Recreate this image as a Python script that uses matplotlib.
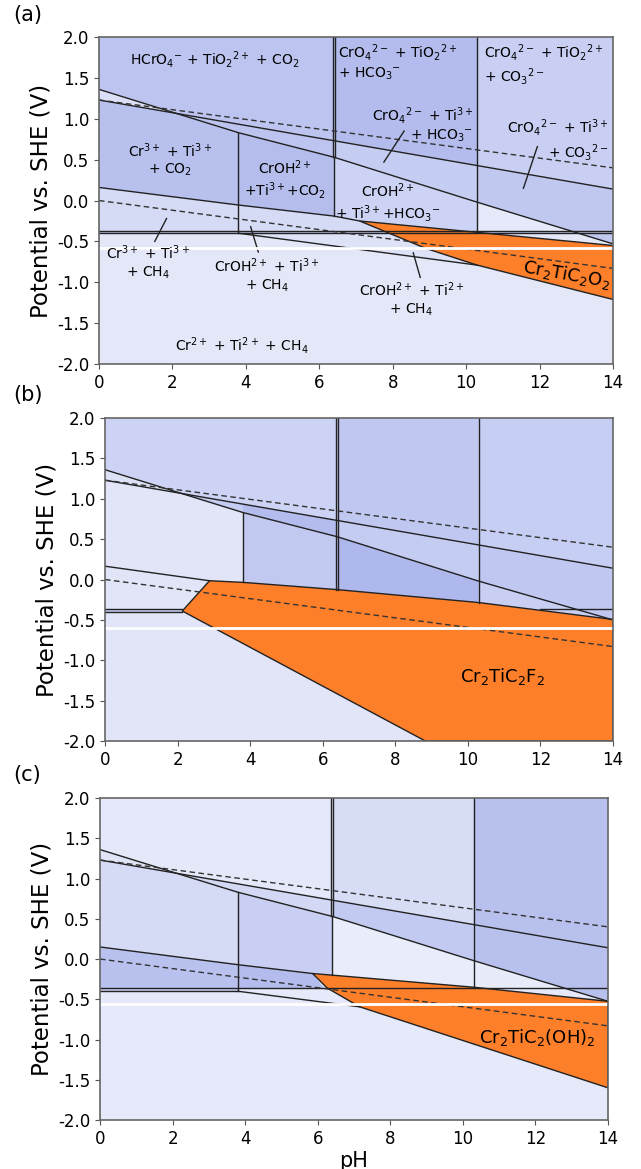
import matplotlib.pyplot as plt
from matplotlib.patches import Polygon

plt.rcParams['axes.unicode_minus'] = False

ph_ticks = [0, 2, 4, 6, 8, 10, 12, 14]
e_ticks = [2.0, 1.5, 1.0, 0.5, 0.0, -0.5, -1.0, -1.5, -2.0]

# water stability lines (dashed)
o2_line = [(0, 1.23), (14, 0.40)]
h2_line = [(0, 0.0), (14, -0.83)]

# -------------------------------------------------------------------------
# panel (a) : Cr2TiC2O2
a_polys = [
    [(0, 2), (6.4, 2), (6.4, 0.73), (2.1, 1.07), (0, 1.36)],
    [(6.4, 2), (10.3, 2), (10.3, 0.43), (6.4, 0.73)],
    [(10.3, 2), (14, 2), (14, 0.14), (10.3, 0.43)],
    [(0, 1.36), (2.1, 1.07), (0, 1.23)],
    [(0, 1.23), (2.1, 1.07), (3.8, 0.83), (3.8, -0.055), (0, 0.16)],
    [(2.1, 1.07), (6.4, 0.73), (6.4, 0.53), (3.8, 0.83)],
    [(3.8, 0.83), (6.4, 0.53), (6.4, -0.19), (3.8, -0.055)],
    [(6.4, 0.73), (10.3, 0.43), (10.3, -0.02), (6.4, 0.53)],
    [(6.4, 0.53), (10.3, -0.02), (10.3, -0.40), (7.1, -0.25), (6.4, -0.19)],
    [(10.3, 0.43), (14, 0.14), (14, -0.53), (10.3, -0.02)],
    [(10.3, -0.02), (12.8, -0.37), (10.3, -0.37)],
    [(0, 0.16), (3.8, -0.055), (6.4, -0.19), (7.1, -0.25), (9.9, -0.37), (0, -0.37)],
    [(0, -0.37), (14, -0.37), (14, -0.40), (0, -0.40)],
    [(3.8, -0.40), (10.3, -0.40), (10.3, -0.79)],
]
a_colors = ['#bcc4ef', '#b3bcec', '#c8cff3', '#dce0f6', '#b8c1ee', '#bcc4ef',
            '#b4bdec', '#c6cdf2', '#ccd3f4', '#c0c8f0', '#e6e9f9', '#d5daf5',
            '#c5ccf1', '#dde2f7']
a_bg = '#e4e7f8'
a_phase = [(7.1, -0.25), (14, -0.55), (14, -1.21), (10.3, -0.79), (8.9, -0.585)]
a_lines = [
    [(0, 1.36), (3.8, 0.83), (6.4, 0.53), (10.3, -0.02), (14, -0.53)],
    [(0, 1.23), (14, 0.14)],
    [(0, 0.16), (3.8, -0.055), (6.4, -0.19), (7.1, -0.25)],
    [(0, -0.37), (14, -0.37)],
    [(0, -0.40), (14, -0.40)],
    [(3.8, -0.40), (10.3, -0.79)],
    [(3.8, 0.83), (3.8, -0.40)],
    [(6.38, 2), (6.38, 0.53)],
    [(6.43, 2), (6.43, 0.53)],
    [(6.4, 0.53), (6.4, -0.19)],
    [(10.3, 2), (10.3, -0.37)],
]
a_leaders = [
    [(7.76, 0.47), (8.31, 0.85)],
    [(11.56, 0.15), (11.94, 0.66)],
    [(1.52, -0.50), (1.84, -0.22)],
    [(4.34, -0.63), (4.13, -0.32)],
    [(8.75, -0.94), (8.56, -0.64)],
]
a_labels = [
    (3.16, 1.72, r'HCrO$_4$$^{-}$ + TiO$_2$$^{2+}$ + CO$_2$', 'center', 'center'),
    (6.52, 1.94, 'CrO$_4$$^{2-}$ + TiO$_2$$^{2+}$\n+ HCO$_3$$^{-}$', 'left', 'top'),
    (10.5, 1.94, 'CrO$_4$$^{2-}$ + TiO$_2$$^{2+}$\n+ CO$_3$$^{2-}$', 'left', 'top'),
    (10.2, 0.93, 'CrO$_4$$^{2-}$ + Ti$^{3+}$\n+ HCO$_3$$^{-}$', 'right', 'center'),
    (13.88, 0.74, 'CrO$_4$$^{2-}$ + Ti$^{3+}$\n+ CO$_3$$^{2-}$', 'right', 'center'),
    (1.93, 0.50, 'Cr$^{3+}$ + Ti$^{3+}$\n+ CO$_2$', 'center', 'center'),
    (5.07, 0.25, 'CrOH$^{2+}$\n+Ti$^{3+}$+CO$_2$', 'center', 'center'),
    (7.87, -0.03, 'CrOH$^{2+}$\n+ Ti$^{3+}$+HCO$_3$$^{-}$', 'center', 'center'),
    (1.34, -0.75, 'Cr$^{3+}$ + Ti$^{3+}$\n+ CH$_4$', 'center', 'center'),
    (4.57, -0.91, 'CrOH$^{2+}$ + Ti$^{3+}$\n+ CH$_4$', 'center', 'center'),
    (8.51, -1.21, 'CrOH$^{2+}$ + Ti$^{2+}$\n+ CH$_4$', 'center', 'center'),
    (3.88, -1.77, 'Cr$^{2+}$ + Ti$^{2+}$ + CH$_4$', 'center', 'center'),
]
a_phase_label = (12.75, -0.90, 'Cr$_2$TiC$_2$O$_2$', -10)

# -------------------------------------------------------------------------
# panel (b) : Cr2TiC2F2
b_polys = [
    [(0, 2), (6.4, 2), (6.4, 0.73), (2.1, 1.07), (0, 1.36)],
    [(6.4, 2), (10.3, 2), (10.3, 0.43), (6.4, 0.73)],
    [(10.3, 2), (14, 2), (14, 0.14), (10.3, 0.43)],
    [(0, 1.36), (2.1, 1.07), (0, 1.23)],
    [(2.1, 1.07), (3.8, 0.934), (3.8, 0.83)],
    [(3.8, 0.934), (6.4, 0.73), (6.4, 0.53), (3.8, 0.83)],
    [(3.8, 0.83), (6.4, 0.53), (6.4, -0.125), (3.8, -0.035)],
    [(6.4, 0.73), (10.3, 0.43), (10.3, -0.02), (6.4, 0.53)],
    [(6.4, 0.53), (10.3, -0.02), (10.3, -0.285), (6.4, -0.125)],
    [(10.3, 0.43), (14, 0.14), (14, -0.50), (10.3, -0.02)],
    [(10.3, -0.02), (14, -0.50), (10.3, -0.285)],
    [(0, -0.367), (2.13, -0.367), (2.13, -0.408), (0, -0.408)],
]
b_colors = ['#cdd3f4', '#c0c8f1', '#c7cef3', '#dde1f6', '#c5ccf2', '#b3bcec',
            '#c1c9f1', '#c5ccf2', '#afb8ec', '#c0c8f1', '#c8cff3', '#c5ccf1']
b_bg = '#e1e5f7'
b_phase = [(2.13, -0.39), (2.88, -0.015), (3.8, -0.035), (6.4, -0.125),
           (10.3, -0.285), (14, -0.495), (14, -2.0), (8.83, -2.0)]
b_lines = [
    [(0, 1.36), (3.8, 0.83), (6.4, 0.53), (10.3, -0.02), (14, -0.50)],
    [(0, 1.23), (14, 0.14)],
    [(0, 0.165), (2.88, -0.015)],
    [(0, -0.367), (2.13, -0.367)],
    [(0, -0.408), (2.13, -0.408)],
    [(12.0, -0.367), (14, -0.367)],
    [(3.8, 0.83), (3.8, -0.035)],
    [(6.38, 2), (6.38, -0.125)],
    [(6.43, 2), (6.43, -0.125)],
    [(10.3, 2), (10.3, -0.285)],
]
b_phase_label = (10.95, -1.2, 'Cr$_2$TiC$_2$F$_2$', 0)

# -------------------------------------------------------------------------
# panel (c) : Cr2TiC2(OH)2
c_polys = [
    [(0, 2), (6.4, 2), (6.4, 0.73), (2.1, 1.07), (0, 1.36)],
    [(6.4, 2), (10.3, 2), (10.3, 0.43), (6.4, 0.73)],
    [(10.3, 2), (14, 2), (14, 0.14), (10.3, 0.43)],
    [(0, 1.36), (2.1, 1.07), (0, 1.23)],
    [(0, 1.23), (2.1, 1.07), (3.8, 0.83), (3.8, -0.07), (0, 0.15)],
    [(2.1, 1.07), (6.4, 0.73), (6.4, 0.53), (3.8, 0.83)],
    [(3.8, 0.83), (6.4, 0.53), (6.4, -0.2), (5.86, -0.18), (3.8, -0.07)],
    [(6.4, 0.73), (10.3, 0.43), (10.3, -0.02), (6.4, 0.53)],
    [(6.4, 0.53), (10.3, -0.02), (10.3, -0.36), (6.4, -0.2)],
    [(10.3, 0.43), (14, 0.14), (14, -0.525), (10.3, -0.02)],
    [(10.3, -0.02), (12.8, -0.362), (10.3, -0.362)],
    [(0, 0.15), (3.8, -0.07), (3.8, -0.362), (0, -0.362)],
    [(3.8, -0.07), (5.86, -0.18), (6.17, -0.362), (3.8, -0.362)],
    [(0, -0.362), (3.8, -0.362), (3.8, -0.40), (0, -0.40)],
]
c_colors = ['#e5e8f8', '#d8ddf6', '#b8c1ee', '#e0e4f7', '#d5daf5', '#d3d8f5',
            '#c8cff2', '#c3caf1', '#e9ecfa', '#b8c1ee', '#e8ebf9', '#b9c2ef',
            '#b3bcec', '#c5ccf1']
c_bg = '#e6e9f9'
c_phase = [(5.86, -0.18), (6.4, -0.2), (10.3, -0.35), (14, -0.525), (14, -1.6),
           (7.16, -0.594), (6.26, -0.36)]
c_lines = [
    [(0, 1.36), (3.8, 0.83), (6.4, 0.53), (10.3, -0.02), (14, -0.525)],
    [(0, 1.23), (14, 0.14)],
    [(0, 0.15), (3.8, -0.07), (5.86, -0.18)],
    [(0, -0.362), (14, -0.362)],
    [(0, -0.40), (3.8, -0.40)],
    [(3.8, -0.40), (7.16, -0.594)],
    [(3.8, 0.83), (3.8, -0.40)],
    [(6.38, 2), (6.38, 0.53)],
    [(6.43, 2), (6.43, 0.53)],
    [(6.4, 0.53), (6.4, -0.2)],
    [(10.3, 2), (10.3, -0.36)],
]
c_phase_label = (12.06, -0.98, 'Cr$_2$TiC$_2$(OH)$_2$', 0)

white_levels = [-0.575, -0.60, -0.56]
panel_tags = ['(a)', '(b)', '(c)']
phase_color = '#fe7f2a'

# -------------------------------------------------------------------------
fig = plt.figure(figsize=(6.41, 11.69), dpi=100)
axes_rects = [[0.1544, 0.6886, 0.8019, 0.2797],
              [0.1638, 0.3661, 0.7925, 0.2763],
              [0.1560, 0.0419, 0.7925, 0.2754]]
tag_pos = [(0.043, 0.987), (0.043, 0.662), (0.043, 0.337)]

panels = [
    (a_bg, a_polys, a_colors, a_phase, a_lines, a_phase_label),
    (b_bg, b_polys, b_colors, b_phase, b_lines, b_phase_label),
    (c_bg, c_polys, c_colors, c_phase, c_lines, c_phase_label),
]

for i, (bg, polys, colors, phase, lines, plabel) in enumerate(panels):
    ax = fig.add_axes(axes_rects[i])
    ax.set_facecolor(bg)
    for verts, col in zip(polys, colors):
        ax.add_patch(Polygon(verts, closed=True, facecolor=col, edgecolor='none', zorder=1))
    ax.add_patch(Polygon(phase, closed=True, facecolor=phase_color, edgecolor='#222222',
                         lw=1.0, zorder=3))
    for ln in lines:
        xs, ys = zip(*ln)
        ax.plot(xs, ys, color='#222222', lw=1.0, zorder=4)
    for ln in (o2_line, h2_line):
        xs, ys = zip(*ln)
        ax.plot(xs, ys, color='#333333', lw=1.0, ls=(0, (4, 2.5)), zorder=4)
    ax.axhline(white_levels[i], color='white', lw=2.0, zorder=6)
    ax.text(plabel[0], plabel[1], plabel[2], fontsize=13, ha='center', va='center',
            rotation=plabel[3], zorder=7)

    ax.set_xlim(0, 14)
    ax.set_ylim(-2.0, 2.0)
    ax.set_xticks(ph_ticks)
    ax.set_yticks(e_ticks)
    ax.set_yticklabels(['%.1f' % v for v in e_ticks])
    ax.tick_params(labelsize=12, length=3.5, color='#555555')
    for sp in ax.spines.values():
        sp.set_color('#666666')
        sp.set_linewidth(1.2)
        sp.set_zorder(8)
    ax.set_ylabel('Potential vs. SHE (V)', fontsize=16.5, labelpad=3)
    fig.text(tag_pos[i][0], tag_pos[i][1], panel_tags[i], fontsize=15,
             ha='center', va='center')
    if i == 0:
        for ln in a_leaders:
            xs, ys = zip(*ln)
            ax.plot(xs, ys, color='#222222', lw=1.0, zorder=5)
        for x, y, s, ha, va in a_labels:
            ax.text(x, y, s, fontsize=10, ha=ha, va=va, multialignment=ha, zorder=7)
    if i == 2:
        ax.set_xlabel('pH', fontsize=15, labelpad=2)

fig.savefig('out.png', dpi=100)
